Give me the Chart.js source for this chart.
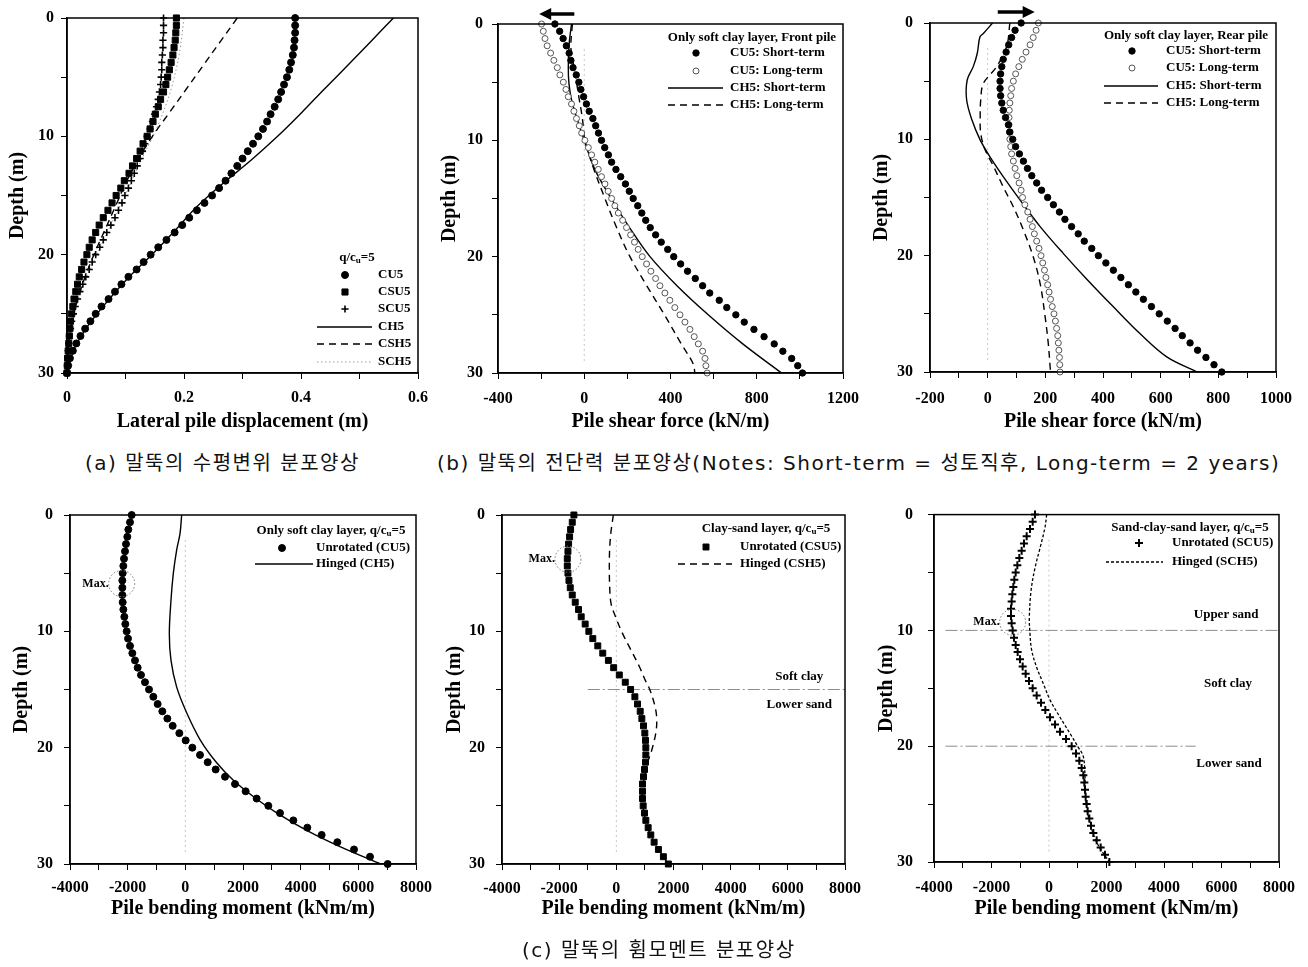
<!DOCTYPE html>
<html lang="ko">
<head>
<meta charset="utf-8">
<title>말뚝 거동 분포양상</title>
<script src="https://cdn.jsdelivr.net/npm/chart.js@4.4.1/dist/chart.umd.min.js"></script>
<style>
    html, body { margin: 0; padding: 0; background: #fff; }
    #page { position: relative; width: 1308px; height: 967px; overflow: hidden; }
    .panel { position: absolute; }
    .caption { position: absolute; font-family: "DejaVu Sans", "Noto Sans CJK KR", sans-serif; font-size: 20px; letter-spacing: 1.5px; line-height: 28px; color: #111; white-space: nowrap; }
</style>
</head>
<body>
<div id="page">
    <canvas id="chartA" class="panel" width="440" height="440" style="left:0px;top:0px"></canvas>
    <canvas id="chartB" class="panel" width="440" height="440" style="left:430px;top:0px"></canvas>
    <canvas id="chartC" class="panel" width="448" height="440" style="left:860px;top:0px"></canvas>
    <canvas id="chartD" class="panel" width="440" height="440" style="left:0px;top:490px"></canvas>
    <canvas id="chartE" class="panel" width="440" height="440" style="left:430px;top:490px"></canvas>
    <canvas id="chartF" class="panel" width="448" height="440" style="left:860px;top:490px"></canvas>

    <div class="caption" style="left:85px;top:449px">(a) 말뚝의 수평변위 분포양상</div>
    <div class="caption" style="left:437px;top:449px">(b) 말뚝의 전단력 분포양상(Notes: Short-term = 성토직후, Long-term = 2 years)</div>
    <div class="caption" style="left:522px;top:936px">(c) 말뚝의 휨모멘트 분포양상</div>
</div>

<script>
// profundidad de los marcadores (m)
const depthGrid = [0, 0.625, 1.25, 1.875, 2.5, 3.125, 3.75, 4.375, 5, 5.625, 6.25, 6.875, 7.5, 8.125, 8.75, 9.375,
    10, 10.625, 11.25, 11.875, 12.5, 13.125, 13.75, 14.375, 15, 15.625, 16.25, 16.875, 17.5, 18.125, 18.75, 19.375,
    20, 20.625, 21.25, 21.875, 22.5, 23.125, 23.75, 24.375, 25, 25.625, 26.25, 26.875, 27.5, 28.125, 28.75, 29.375, 30];

// (a) lateral pile displacement (m)
const dispCU5 = [0.390, 0.390, 0.390, 0.389, 0.388, 0.386, 0.383, 0.380, 0.376, 0.371,
    0.366, 0.361, 0.355, 0.348, 0.342, 0.335, 0.327, 0.318, 0.309, 0.300,
    0.291, 0.281, 0.271, 0.260, 0.248, 0.235, 0.222, 0.209, 0.197, 0.184,
    0.170, 0.156, 0.143, 0.131, 0.119, 0.105, 0.093, 0.082, 0.071, 0.059,
    0.049, 0.040, 0.031, 0.023, 0.016, 0.010, 0.005, 0.002, 0];
const dispCSU5 = [0.187, 0.187, 0.186, 0.185, 0.183, 0.181, 0.178, 0.175, 0.172, 0.169,
    0.165, 0.160, 0.156, 0.151, 0.147, 0.142, 0.137, 0.130, 0.125, 0.119,
    0.112, 0.106, 0.098, 0.092, 0.084, 0.077, 0.070, 0.062, 0.055, 0.049,
    0.043, 0.038, 0.034, 0.029, 0.025, 0.021, 0.018, 0.015, 0.012, 0.010,
    0.008, 0.006, 0.005, 0.004, 0.003, 0.002, 0.001, 0.0005, 0];
const dispSCU5 = [0.165, 0.165, 0.165, 0.164, 0.164, 0.163, 0.162, 0.162, 0.161, 0.160,
    0.158, 0.156, 0.153, 0.150, 0.146, 0.142, 0.137, 0.133, 0.129, 0.125,
    0.120, 0.115, 0.110, 0.105, 0.099, 0.094, 0.088, 0.082, 0.075, 0.068,
    0.062, 0.056, 0.049, 0.043, 0.038, 0.032, 0.027, 0.022, 0.018, 0.014,
    0.011, 0.008, 0.006, 0.004, 0.003, 0.002, 0.001, 0.0005, 0];
const dispHingedDepth = [0, 2, 4, 6, 8, 10, 12, 14, 16, 18, 20, 22, 24, 26, 28, 30];
const dispCH5 = [0.558, 0.519, 0.480, 0.440, 0.401, 0.360, 0.315, 0.266, 0.221, 0.184, 0.145, 0.104, 0.068, 0.036, 0.012, 0];
const dispCSH5 = [0.291, 0.262, 0.233, 0.204, 0.175, 0.146, 0.121, 0.100, 0.082, 0.064, 0.046, 0.030, 0.017, 0.007, 0.002, 0];
const dispSCH5Depth = [0, 3, 6, 9, 12, 15, 18, 21, 24, 27, 30];
const dispSCH5 = [0.200, 0.192, 0.178, 0.156, 0.127, 0.099, 0.070, 0.042, 0.018, 0.004, 0];

// (b) shear force, front pile (kN/m)
const frontCU5Short = [-136, -114, -98, -83, -70, -62, -52, -37, -25, -16,
    -3, 10, 23, 40, 53, 66, 80, 95, 112, 127,
    147, 169, 191, 209, 227, 248, 267, 285, 306, 331,
    357, 387, 415, 447, 479, 515, 549, 582, 626, 661,
    703, 742, 787, 834, 881, 921, 962, 990, 1012];
const frontCU5Long = [-198, -190, -182, -172, -156, -141, -125, -113, -97, -85,
    -74, -59, -48, -36, -23, -12, 3, 19, 34, 49,
    65, 80, 96, 111, 127, 142, 158, 178, 196, 215,
    233, 250, 269, 289, 309, 331, 351, 374, 397, 420,
    444, 467, 490, 510, 529, 549, 560, 564, 570];
const frontCH5ShortDepth = [0, 1.7, 3.7, 5.1, 6.5, 8, 10, 12.5, 15, 17.5, 20, 22.5, 25, 27.5, 30];
const frontCH5Short = [-59, -70, -74, -71, -59, -36, 0, 49, 125, 210, 305, 430, 575, 735, 915];
const frontCH5LongDepth = [0, 2, 3.5, 5, 6.5, 7.7, 9, 10, 12.5, 15, 17.5, 20, 22.5, 25, 27.5, 29.2, 30];
const frontCH5Long = [-55, -62, -50, -36, -23, -12, -3, 3, 45, 96, 150, 212, 290, 372, 450, 505, 513];

// (b) shear force, rear pile (kN/m)
const rearCU5Short = [116, 95, 83, 73, 64, 54, 49, 45, 43, 43,
    45, 49, 54, 62, 72, 77, 87, 97, 110, 124,
    138, 153, 170, 187, 208, 228, 249, 268, 291, 314,
    335, 361, 384, 410, 436, 462, 488, 514, 540, 568,
    595, 623, 650, 675, 702, 728, 757, 785, 812];
const rearCU5Long = [176, 168, 158, 147, 133, 120, 108, 97, 89, 83,
    80, 77, 75, 74, 74, 75, 77, 80, 83, 89,
    95, 101, 109, 116, 121, 129, 139, 147, 155, 162,
    170, 178, 185, 191, 197, 202, 208, 213, 218, 224,
    230, 235, 239, 243, 245, 247, 249, 250, 251];
const rearCH5ShortDepth = [0, 0.9, 1.2, 2.6, 3.75, 4.9, 6.6, 8.3, 10, 11.5, 13.2, 15.2, 17.5, 19.8, 22, 24.4, 26.7, 28.7, 30];
const rearCH5Short = [17, -15, -27, -36, -50, -71, -73, -55, -27, 8, 54, 112, 182, 262, 343, 436, 528, 621, 727];
const rearCH5LongDepth = [0, 2, 3.75, 5.2, 6.6, 8, 9.5, 10.9, 12.3, 14.1, 15.8, 17.8, 20.1, 22.4, 25.2, 27.5, 30];
const rearCH5Long = [77, 66, 31, -15, -24, -26, -24, -9, 20, 54, 89, 124, 158, 182, 199, 210, 218];

// (c) bending moment (kNm/m)
const momCU5 = [-1861, -1919, -1977, -2012, -2058, -2092, -2127, -2150, -2173, -2185,
    -2185, -2185, -2173, -2150, -2116, -2081, -2035, -1988, -1919, -1838,
    -1746, -1653, -1538, -1399, -1260, -1110, -960, -798, -624, -439,
    -208, 12, 243, 509, 775, 1052, 1376, 1723, 2092, 2474,
    2879, 3283, 3746, 4231, 4728, 5272, 5850, 6405, 7017];
const momCH5Depth = [0, 1.6, 3, 5, 7.3, 10.2, 12.5, 14.8, 17, 19.3, 21.3, 22.8, 24.2, 25.6, 27.1, 28.5, 30];
const momCH5 = [-127, -185, -300, -416, -497, -555, -497, -300, 46, 509, 1087, 1665, 2358, 3168, 4208, 5364, 6780];

const momCSU5 = [-1484, -1542, -1600, -1635, -1670, -1693, -1716, -1716, -1693, -1658,
    -1612, -1542, -1438, -1322, -1229, -1090, -962, -823, -649, -475,
    -278, -93, 104, 313, 499, 649, 742, 835, 893, 951,
    997, 1020, 1032, 1032, 1020, 986, 951, 916, 916, 916,
    939, 986, 1032, 1113, 1206, 1322, 1472, 1646, 1820];
const momCSH5Depth = [0, 1.5, 3, 4.5, 6, 7.6, 8.7, 10.2, 11.6, 13, 14.3, 15, 16.5, 17.6, 18.75, 20.2, 21.3, 22.2, 23.5, 25, 27, 28.5, 30];
const momCSH5 = [-104, -190, -235, -245, -235, -186, -35, 220, 510, 800, 1030, 1170, 1357, 1414, 1380, 1240, 1090, 1009, 930, 930, 1113, 1420, 1820];

const momSCU5 = [-487, -568, -661, -777, -870, -951, -1032, -1101, -1159, -1206,
    -1241, -1275, -1299, -1322, -1322, -1299, -1264, -1217, -1159, -1090,
    -1009, -916, -812, -696, -568, -429, -278, -128, 35, 209,
    383, 591, 788, 939, 1055, 1136, 1194, 1229, 1252, 1275,
    1310, 1345, 1403, 1461, 1542, 1658, 1797, 1948, 2099];
const momSCH5Depth = [0, 1.1, 2.9, 4.6, 6.6, 8.9, 10.3, 11.7, 13.2, 14.6, 16, 17.5, 18.9, 20.1, 20.9, 22.6, 24.6, 26.4, 28.3, 30];
const momSCH5 = [-81, -139, -313, -487, -626, -684, -661, -603, -429, -197, 35, 383, 730, 1020, 1194, 1252, 1275, 1403, 1658, 2099];

// límites de capas (m)
const csLayerDepths = [15];
const scLayerDepths = [10, 20];

document.addEventListener("DOMContentLoaded", function () {
    const serif = "'Liberation Serif', 'Times New Roman', serif";

    function isMajor(v, major) {
        return Math.abs(v / major - Math.round(v / major)) < 1e-6;
    }

    function markerSet(label, values, shape, r, fill, stroke, bw) {
        return {
            label: label,
            data: depthGrid.map((d, i) => ({ x: values[i], y: d })),
            showLine: false,
            pointStyle: shape,
            pointRadius: r,
            pointBackgroundColor: fill,
            pointBorderColor: stroke,
            pointBorderWidth: bw,
            clip: false
        };
    }

    function lineSet(label, depths, values, color, width, dash) {
        return {
            label: label,
            data: depths.map((d, i) => ({ x: values[i], y: d })),
            showLine: true,
            pointRadius: 0,
            borderColor: color,
            borderWidth: width,
            borderDash: dash,
            tension: 0.35,
            fill: false,
            clip: false
        };
    }

    function drawRich(ctx, parts, cx, cy, size) {
        const normal = "bold " + size + "px " + serif;
        const small = "bold " + Math.round(size * 0.7) + "px " + serif;
        let total = 0;
        parts.forEach(p => { ctx.font = p.sub ? small : normal; total += ctx.measureText(p.t).width; });
        let x = cx - total / 2;
        ctx.textAlign = "left";
        parts.forEach(p => {
            ctx.font = p.sub ? small : normal;
            ctx.fillText(p.t, x, p.sub ? cy + 3 : cy);
            x += ctx.measureText(p.t).width;
        });
    }

    function drawMarker(ctx, ds, x, y) {
        const r = ds.pointRadius;
        ctx.save();
        ctx.setLineDash([]);
        ctx.fillStyle = ds.pointBackgroundColor;
        ctx.strokeStyle = ds.pointBorderColor;
        ctx.lineWidth = ds.pointBorderWidth;
        ctx.beginPath();
        if (ds.pointStyle === "rect") {
            const s = r * Math.SQRT1_2;
            ctx.rect(x - s, y - s, 2 * s, 2 * s);
            ctx.fill();
            ctx.stroke();
        } else if (ds.pointStyle === "cross") {
            ctx.moveTo(x - r, y); ctx.lineTo(x + r, y);
            ctx.moveTo(x, y - r); ctx.lineTo(x, y + r);
            ctx.stroke();
        } else {
            ctx.arc(x, y, r, 0, Math.PI * 2);
            ctx.fill();
            ctx.stroke();
        }
        ctx.restore();
    }

    const panelDeco = {
        id: "panelDeco",
        beforeDatasetsDraw(chart, args, opts) {
            const ctx = chart.ctx;
            const xs = chart.scales.x, ys = chart.scales.y;
            const area = chart.chartArea;
            ctx.save();
            if (opts.zeroLine) {
                ctx.strokeStyle = "rgba(0,0,0,0.22)";
                ctx.lineWidth = 1;
                ctx.setLineDash([2, 3]);
                const px = xs.getPixelForValue(0);
                ctx.beginPath();
                ctx.moveTo(px, area.top + 25);
                ctx.lineTo(px, area.bottom - 10);
                ctx.stroke();
            }
            (opts.layers || []).forEach(l => {
                ctx.strokeStyle = "#8c8c8c";
                ctx.lineWidth = 1;
                ctx.setLineDash([12, 3, 2, 3]);
                const py = ys.getPixelForValue(l.depth);
                ctx.beginPath();
                ctx.moveTo(xs.getPixelForValue(l.from), py);
                ctx.lineTo(xs.getPixelForValue(l.to), py);
                ctx.stroke();
            });
            ctx.restore();
        },
        afterDatasetsDraw(chart, args, opts) {
            const ctx = chart.ctx;
            const xs = chart.scales.x, ys = chart.scales.y;
            const area = chart.chartArea;
            ctx.save();
            // marco
            ctx.strokeStyle = "#000";
            ctx.lineWidth = 1.5;
            ctx.setLineDash([]);
            ctx.strokeRect(area.left, area.top, area.right - area.left, area.bottom - area.top);

            // flecha de dirección
            if (opts.arrow) {
                const a = opts.arrow;
                const y = area.top + a.dy;
                const x0 = xs.getPixelForValue(a.from), x1 = xs.getPixelForValue(a.to);
                const dir = Math.sign(x1 - x0);
                ctx.lineWidth = 3.5;
                ctx.beginPath();
                ctx.moveTo(x0, y);
                ctx.lineTo(x1 - dir * 9, y);
                ctx.stroke();
                ctx.fillStyle = "#000";
                ctx.beginPath();
                ctx.moveTo(x1, y);
                ctx.lineTo(x1 - dir * 12, y - 6);
                ctx.lineTo(x1 - dir * 12, y + 6);
                ctx.closePath();
                ctx.fill();
            }

            // textos de capas
            ctx.fillStyle = "#000";
            ctx.font = "bold 13px " + serif;
            ctx.textAlign = "center";
            ctx.textBaseline = "middle";
            (opts.texts || []).forEach(t => {
                ctx.fillText(t.text, xs.getPixelForValue(t.x), ys.getPixelForValue(t.y));
            });

            // Max.
            if (opts.max) {
                const cx = xs.getPixelForValue(opts.max.x), cy = ys.getPixelForValue(opts.max.y);
                ctx.strokeStyle = "#777";
                ctx.lineWidth = 1;
                ctx.setLineDash([1.5, 2]);
                ctx.beginPath();
                ctx.arc(cx, cy, 13, 0, Math.PI * 2);
                ctx.stroke();
                ctx.setLineDash([]);
                ctx.font = "bold 12px " + serif;
                ctx.textAlign = "right";
                ctx.fillText("Max.", cx - 13, cy);
            }

            // leyenda
            const lg = opts.legend;
            if (lg) {
                ctx.textBaseline = "middle";
                ctx.fillStyle = "#000";
                drawRich(ctx, lg.header, lg.hx, lg.hy, 13);
                chart.data.datasets.forEach((ds, i) => {
                    const y = lg.rows[i];
                    if (ds.showLine) {
                        ctx.strokeStyle = ds.borderColor;
                        ctx.lineWidth = ds.borderWidth;
                        ctx.setLineDash(ds.borderDash || []);
                        ctx.beginPath();
                        ctx.moveTo(lg.lx0, y);
                        ctx.lineTo(lg.lx1, y);
                        ctx.stroke();
                        ctx.setLineDash([]);
                    } else {
                        drawMarker(ctx, ds, lg.mx, y);
                    }
                    ctx.fillStyle = "#000";
                    ctx.font = "bold 13px " + serif;
                    ctx.textAlign = "left";
                    ctx.fillText(ds.label, lg.tx, y);
                });
            }
            ctx.restore();
        }
    };

    function buildChart(id, cfg) {
        const ctx = document.getElementById(id).getContext("2d");
        return new Chart(ctx, {
            type: "scatter",
            data: { datasets: cfg.datasets },
            options: {
                responsive: false,
                animation: false,
                events: [],
                layout: { padding: { left: 0, top: cfg.padTop, right: cfg.padRight, bottom: 0 } },
                plugins: {
                    legend: { display: false },
                    tooltip: { enabled: false },
                    panelDeco: cfg.deco
                },
                scales: {
                    x: {
                        type: "linear",
                        position: "bottom",
                        min: cfg.x.min,
                        max: cfg.x.max,
                        ticks: {
                            stepSize: cfg.x.step,
                            autoSkip: false,
                            maxRotation: 0,
                            padding: cfg.x.pad,
                            color: "#000",
                            font: { family: serif, size: 16, weight: "bold" },
                            callback: v => isMajor(v, cfg.x.major) ? String(Number(v.toFixed(3))) : ""
                        },
                        grid: { drawOnChartArea: false, drawTicks: true, tickLength: 6, color: "#000", lineWidth: 1 },
                        border: { display: true, color: "#000", width: 1.5 },
                        title: {
                            display: true,
                            text: cfg.x.title,
                            color: "#000",
                            font: { family: serif, size: 20, weight: "bold" },
                            padding: { top: 0, bottom: cfg.x.titlePad }
                        },
                        afterFit: s => { s.height = cfg.x.height; }
                    },
                    y: {
                        type: "linear",
                        position: "left",
                        reverse: true,
                        min: 0,
                        max: 30,
                        ticks: {
                            stepSize: 5,
                            autoSkip: false,
                            padding: cfg.y.pad,
                            color: "#000",
                            font: { family: serif, size: 16, weight: "bold" },
                            callback: v => isMajor(v, 10) ? String(v) : ""
                        },
                        grid: { drawOnChartArea: false, drawTicks: true, tickLength: 6, color: "#000", lineWidth: 1 },
                        border: { display: true, color: "#000", width: 1.5 },
                        title: {
                            display: true,
                            text: "Depth (m)",
                            color: "#000",
                            font: { family: serif, size: 20, weight: "bold" },
                            padding: { top: cfg.y.titlePad, bottom: 0 }
                        },
                        afterFit: s => { s.width = cfg.y.width; }
                    }
                }
            },
            plugins: [panelDeco]
        });
    }

    const qcu = [{ t: "q/c" }, { t: "u", sub: true }, { t: "=5" }];

    // (a) desplazamiento lateral
    buildChart("chartA", {
        padTop: 18, padRight: 22,
        x: { min: 0, max: 0.6, step: 0.1, major: 0.2, pad: 9, title: "Lateral pile displacement (m)", titlePad: 6, height: 67 },
        y: { pad: 7, titlePad: 6, width: 67 },
        datasets: [
            markerSet("CU5", dispCU5, "circle", 3.5, "#000", "#000", 1),
            markerSet("CSU5", dispCSU5, "rect", 4.3, "#000", "#000", 1),
            markerSet("SCU5", dispSCU5, "cross", 3.6, "#000", "#000", 1.6),
            lineSet("CH5", dispHingedDepth, dispCH5, "#000", 1.4, []),
            lineSet("CSH5", dispHingedDepth, dispCSH5, "#000", 1.4, [7, 5]),
            lineSet("SCH5", dispSCH5Depth, dispSCH5, "#9a9a9a", 1, [1.5, 2.5])
        ],
        deco: {
            legend: { header: qcu, hx: 357, hy: 258, rows: [275, 292, 309, 327, 344, 362], mx: 345, lx0: 317, lx1: 372, tx: 378 }
        }
    });

    // (b) cortante, pilote delantero
    buildChart("chartB", {
        padTop: 24, padRight: 27,
        x: { min: -400, max: 1200, step: 200, major: 400, pad: 10, title: "Pile shear force (kN/m)", titlePad: 6, height: 67 },
        y: { pad: 9, titlePad: 8, width: 68 },
        datasets: [
            markerSet("CU5: Short-term", frontCU5Short, "circle", 3.2, "#000", "#000", 1),
            markerSet("CU5: Long-term", frontCU5Long, "circle", 3, "#fff", "#555", 1),
            lineSet("CH5: Short-term", frontCH5ShortDepth, frontCH5Short, "#000", 1.4, []),
            lineSet("CH5: Long-term", frontCH5LongDepth, frontCH5Long, "#000", 1.4, [7, 5])
        ],
        deco: {
            zeroLine: true,
            arrow: { from: -46, to: -209, dy: -10 },
            legend: { header: [{ t: "Only soft clay layer, Front pile" }], hx: 322, hy: 38, rows: [53, 71, 88, 105], mx: 266, lx0: 238, lx1: 293, tx: 300 }
        }
    });

    // (b) cortante, pilote trasero
    buildChart("chartC", {
        padTop: 23, padRight: 32,
        x: { min: -200, max: 1000, step: 100, major: 200, pad: 11, title: "Pile shear force (kN/m)", titlePad: 6, height: 68 },
        y: { pad: 11, titlePad: 10, width: 70 },
        datasets: [
            markerSet("CU5: Short-term", rearCU5Short, "circle", 3.2, "#000", "#000", 1),
            markerSet("CU5: Long-term", rearCU5Long, "circle", 3, "#fff", "#555", 1),
            lineSet("CH5: Short-term", rearCH5ShortDepth, rearCH5Short, "#000", 1.4, []),
            lineSet("CH5: Long-term", rearCH5LongDepth, rearCH5Long, "#000", 1.4, [7, 5])
        ],
        deco: {
            zeroLine: true,
            arrow: { from: 35, to: 163, dy: -11 },
            legend: { header: [{ t: "Only soft clay layer, Rear pile" }], hx: 326, hy: 36, rows: [51, 68, 86, 103], mx: 272, lx0: 244, lx1: 298, tx: 306 }
        }
    });

    // (c) momento, solo arcilla
    buildChart("chartD", {
        padTop: 25, padRight: 24,
        x: { min: -4000, max: 8000, step: 1000, major: 2000, pad: 8, title: "Pile bending moment (kNm/m)", titlePad: 9, height: 66 },
        y: { pad: 11, titlePad: 10, width: 70 },
        datasets: [
            markerSet("Unrotated (CU5)", momCU5, "circle", 3.5, "#000", "#000", 1),
            lineSet("Hinged (CH5)", momCH5Depth, momCH5, "#000", 1.4, [])
        ],
        deco: {
            zeroLine: true,
            max: { x: -2208, y: 5.9 },
            legend: { header: [{ t: "Only soft clay layer, q/c" }, { t: "u", sub: true }, { t: "=5" }], hx: 331, hy: 41, rows: [58, 74], mx: 282, lx0: 255, lx1: 313, tx: 316 }
        }
    });

    // (c) momento, arcilla-arena
    buildChart("chartE", {
        padTop: 25, padRight: 23,
        x: { min: -4000, max: 8000, step: 1000, major: 2000, pad: 9, title: "Pile bending moment (kNm/m)", titlePad: 9, height: 66 },
        y: { pad: 11, titlePad: 13, width: 72 },
        datasets: [
            markerSet("Unrotated (CSU5)", momCSU5, "rect", 4.2, "#000", "#000", 1),
            lineSet("Hinged (CSH5)", momCSH5Depth, momCSH5, "#000", 1.4, [7, 5])
        ],
        deco: {
            zeroLine: true,
            layers: csLayerDepths.map(d => ({ depth: d, from: -1000, to: 8000 })),
            texts: [{ text: "Soft clay", x: 6400, y: 13.9 }, { text: "Lower sand", x: 6400, y: 16.3 }],
            max: { x: -1693, y: 3.8 },
            legend: { header: [{ t: "Clay-sand layer, q/c" }, { t: "u", sub: true }, { t: "=5" }], hx: 336, hy: 39, rows: [57, 74], mx: 276, lx0: 248, lx1: 302, tx: 310 }
        }
    });

    // (c) momento, arena-arcilla-arena
    buildChart("chartF", {
        padTop: 23, padRight: 29,
        x: { min: -4000, max: 8000, step: 1000, major: 2000, pad: 10, title: "Pile bending moment (kNm/m)", titlePad: 9, height: 68 },
        y: { pad: 15, titlePad: 15, width: 74 },
        datasets: [
            markerSet("Unrotated (SCU5)", momSCU5, "cross", 4, "#000", "#000", 2),
            lineSet("Hinged (SCH5)", momSCH5Depth, momSCH5, "#000", 1.3, [3, 2])
        ],
        deco: {
            zeroLine: true,
            layers: scLayerDepths.map((d, i) => ({ depth: d, from: -3600, to: i === 0 ? 8000 : 5100 })),
            texts: [{ text: "Upper sand", x: 6160, y: 8.6 }, { text: "Soft clay", x: 6230, y: 14.6 }, { text: "Lower sand", x: 6260, y: 21.5 }],
            max: { x: -1264, y: 9.3 },
            legend: { header: [{ t: "Sand-clay-sand layer, q/c" }, { t: "u", sub: true }, { t: "=5" }], hx: 330, hy: 38, rows: [53, 72], mx: 279, lx0: 246, lx1: 303, tx: 312 }
        }
    });
});
</script>
</body>
</html>
